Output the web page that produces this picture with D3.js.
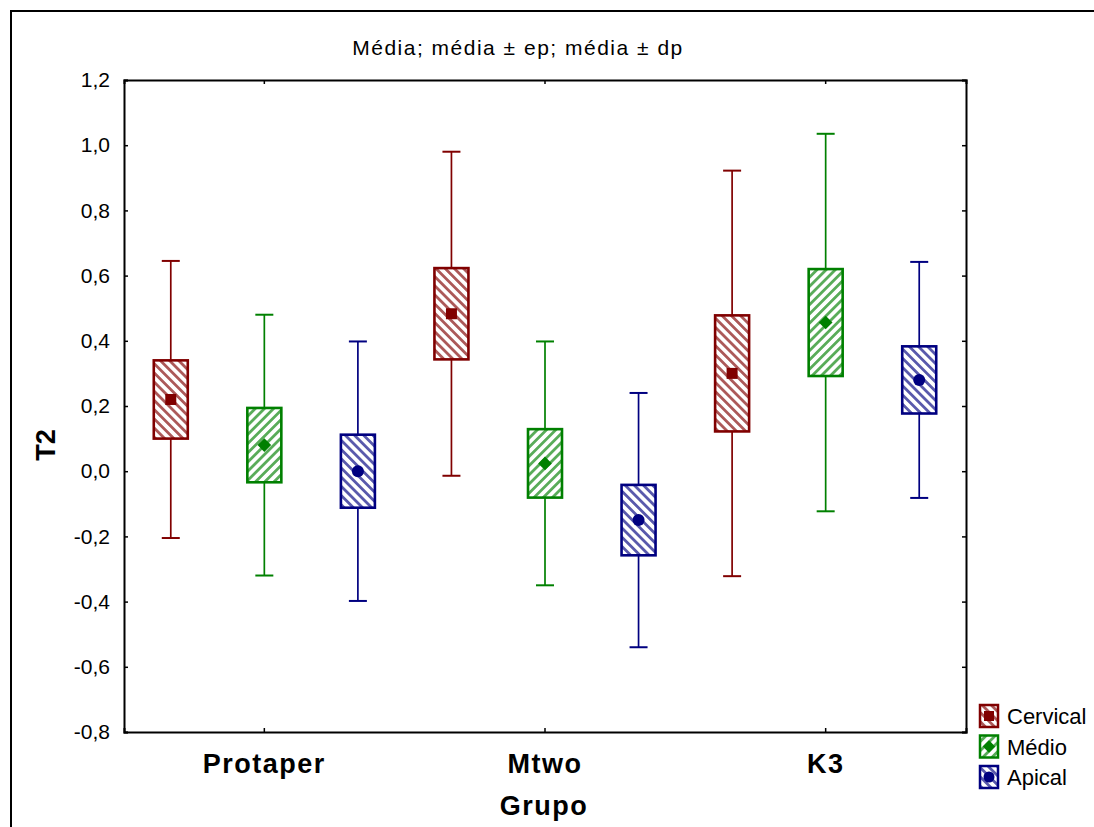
<!DOCTYPE html>
<html><head><meta charset="utf-8">
<script src="https://cdn.jsdelivr.net/npm/d3@7/dist/d3.min.js"></script>
<style>body{margin:0;background:#fff}svg{display:block}text{font-family:Arial,"Liberation Sans",sans-serif}</style>
</head><body>
<script>
// ---- data ----
const groups = ["Protaper", "Mtwo", "K3"];
const series = ["Cervical", "Médio", "Apical"];
// mean, standard error (ep), standard deviation (dp) per group
const cervicalMean = [0.220, 0.483, 0.300];
const cervicalSE   = [0.120, 0.140, 0.178];
const cervicalSD   = [0.425, 0.497, 0.622];
const medioMean    = [0.080, 0.024, 0.456];
const medioSE      = [0.114, 0.105, 0.164];
const medioSD      = [0.400, 0.374, 0.579];
const apicalMean   = [0.000, -0.150, 0.280];
const apicalSE     = [0.112, 0.108, 0.103];
const apicalSD     = [0.398, 0.390, 0.362];
const yTicks = [-0.8, -0.6, -0.4, -0.2, 0.0, 0.2, 0.4, 0.6, 0.8, 1.0, 1.2];
const titleText = "Média; média ± ep; média ± dp";
const xTitle = "Grupo";
const yTitle = "T2";

const seriesData = [
  {name: series[0], mean: cervicalMean, se: cervicalSE, sd: cervicalSD, color: "#800000", marker: "square", dir: "\\"},
  {name: series[1], mean: medioMean, se: medioSE, sd: medioSD, color: "#008000", marker: "diamond", dir: "/"},
  {name: series[2], mean: apicalMean, se: apicalSE, sd: apicalSD, color: "#000080", marker: "circle", dir: "\\"}
];

const W = 1094, H = 827;
const plot = {left: 124, right: 966, top: 80, bottom: 732};

const svg = d3.select("body").append("svg").attr("width", W).attr("height", H);
const defs = svg.append("defs");

seriesData.forEach((s, i) => {
  const p = defs.append("pattern").attr("id", "hatch" + i)
    .attr("patternUnits", "userSpaceOnUse").attr("width", 6.5).attr("height", 6.5)
    .attr("patternTransform", `rotate(${s.dir === "/" ? 45 : -45})`);
  p.append("rect").attr("width", 6.5).attr("height", 6.5).attr("fill", "#fff");
  p.append("rect").attr("x", 0).attr("width", 2.8).attr("height", 6.5).attr("fill", s.color).attr("opacity", 0.65);
});

// outer frame
svg.append("rect").attr("x", 11).attr("y", 11).attr("width", W + 20).attr("height", H + 20)
  .attr("fill", "none").attr("stroke", "#000").attr("stroke-width", 2);

const x = d3.scaleBand().domain(groups).range([plot.left, plot.right]);
const xi = d3.scaleBand().domain(series).range([0, x.bandwidth()]);
const y = d3.scaleLinear().domain([-0.8, 1.2]).range([plot.bottom, plot.top]);
const fmt = d => d3.format(".1f")(d).replace(".", ",").replace("−", "-");

// title
svg.append("text").attr("x", 518).attr("y", 55).attr("text-anchor", "middle")
  .attr("font-size", 21).attr("letter-spacing", 1.5).text(titleText);

// axes
const gL = svg.append("g").attr("transform", `translate(${plot.left},0)`)
  .call(d3.axisLeft(y).tickValues(yTicks).tickSize(-4).tickPadding(14).tickFormat(fmt));
const gR = svg.append("g").attr("transform", `translate(${plot.right},0)`)
  .call(d3.axisRight(y).tickValues(yTicks).tickSize(-4).tickFormat(""));
const gB = svg.append("g").attr("transform", `translate(0,${plot.bottom})`)
  .call(d3.axisBottom(x).tickSize(-4).tickPadding(22));
const gT = svg.append("g").attr("transform", `translate(0,${plot.top})`)
  .call(d3.axisTop(x).tickSize(-4).tickFormat(""));
[gL, gR, gB, gT].forEach(g => {
  g.select(".domain").attr("stroke-width", 2).attr("stroke", "#000");
  g.selectAll(".tick line").attr("stroke", "#000").attr("stroke-width", 1.5);
});
gL.selectAll(".tick text").attr("font-size", 21).attr("fill", "#000").attr("font-family", "Arial, 'Liberation Sans', sans-serif");
gB.selectAll(".tick text").attr("font-size", 27).attr("font-weight", "bold").attr("letter-spacing", 1.5)
  .attr("fill", "#000").attr("font-family", "Arial, 'Liberation Sans', sans-serif");

// axis titles
svg.append("text").attr("x", 544).attr("y", 815).attr("text-anchor", "middle")
  .attr("font-size", 27).attr("font-weight", "bold").attr("letter-spacing", 1.5).text(xTitle);
svg.append("text").attr("transform", "translate(55,445) rotate(-90)").attr("text-anchor", "middle")
  .attr("font-size", 27).attr("font-weight", "bold").text(yTitle);

function drawMarker(g, type, cx, cy, color, size) {
  if (type === "square") {
    g.append("rect").attr("x", cx - size / 2).attr("y", cy - size / 2).attr("width", size).attr("height", size).attr("fill", color);
  } else if (type === "diamond") {
    const r = size * 0.62;
    g.append("path").attr("d", `M${cx},${cy - r}L${cx + r},${cy}L${cx},${cy + r}L${cx - r},${cy}Z`).attr("fill", color);
  } else {
    g.append("circle").attr("cx", cx).attr("cy", cy).attr("r", size / 2 + 0.5).attr("fill", color);
  }
}

const boxW = 34, capW = 18;
seriesData.forEach((s, si) => {
  const g = svg.append("g");
  groups.forEach((grp, gi) => {
    const cx = x(grp) + xi(s.name) + xi.bandwidth() / 2;
    const m = s.mean[gi], se = s.se[gi], sd = s.sd[gi];
    // whisker
    g.append("line").attr("x1", cx).attr("x2", cx).attr("y1", y(m + sd)).attr("y2", y(m - sd))
      .attr("stroke", s.color).attr("stroke-width", 1.7);
    [m + sd, m - sd].forEach(v => g.append("line").attr("x1", cx - capW / 2).attr("x2", cx + capW / 2)
      .attr("y1", y(v)).attr("y2", y(v)).attr("stroke", s.color).attr("stroke-width", 2));
    // box
    g.append("rect").attr("x", cx - boxW / 2).attr("y", y(m + se)).attr("width", boxW)
      .attr("height", y(m - se) - y(m + se)).attr("fill", `url(#hatch${si})`)
      .attr("stroke", s.color).attr("stroke-width", 2.6);
    drawMarker(g, s.marker, cx, y(m), s.color, 11);
  });
});

// legend
const leg = svg.append("g").attr("transform", "translate(979,704)");
seriesData.forEach((s, i) => {
  const ly = i * 30.5;
  leg.append("rect").attr("x", 1).attr("y", ly + 1).attr("width", 18).attr("height", 22)
    .attr("fill", `url(#hatch${i})`).attr("stroke", s.color).attr("stroke-width", 2.5);
  drawMarker(leg, s.marker, 10, ly + 12, s.color, 10);
  leg.append("text").attr("x", 28).attr("y", ly + 20).attr("font-size", 22).attr("fill", "#000").text(s.name);
});
</script>
</body></html>
